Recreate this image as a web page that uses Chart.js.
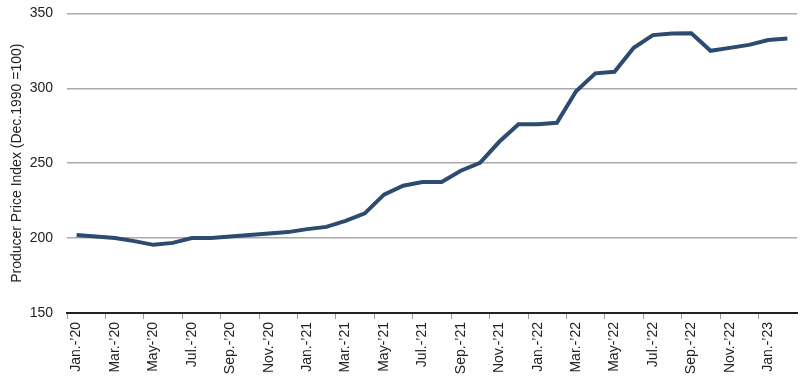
<!DOCTYPE html>
<html>
<head>
<meta charset="utf-8">
<script src="https://cdn.jsdelivr.net/npm/chart.js@4"></script>
<style>
  html, body { margin: 0; padding: 0; background: #fff; }
  #wrap { width: 800px; height: 382px; position: relative; }
</style>
</head>
<body>
<div id="wrap"><canvas id="c" width="800" height="382"></canvas></div>
<script>
const categories = [
  "Jan.-’20","Feb.-’20","Mar.-’20","Apr.-’20","May-’20","Jun.-’20","Jul.-’20","Aug.-’20","Sep.-’20","Oct.-’20","Nov.-’20","Dec.-’20",
  "Jan.-’21","Feb.-’21","Mar.-’21","Apr.-’21","May-’21","Jun.-’21","Jul.-’21","Aug.-’21","Sep.-’21","Oct.-’21","Nov.-’21","Dec.-’21",
  "Jan.-’22","Feb.-’22","Mar.-’22","Apr.-’22","May-’22","Jun.-’22","Jul.-’22","Aug.-’22","Sep.-’22","Oct.-’22","Nov.-’22","Dec.-’22",
  "Jan.-’23","Feb.-’23"
];
const ppiValues = [
  202, 201, 200, 198, 195.5, 196.8, 200, 200, 201, 202, 203, 204,
  206, 207.5, 211.5, 216.5, 229, 235, 237.5, 237.5, 245, 250.3, 264.3, 276,
  276, 277, 298, 310, 311, 327, 335.5, 336.6, 336.7, 325, 327, 329,
  332.2, 333.2
];
const yTicks = [150, 200, 250, 300, 350];

new Chart(document.getElementById('c'), {
  type: 'line',
  data: {
    labels: categories,
    datasets: [{
      data: ppiValues,
      borderColor: '#2c4b6e',
      borderWidth: 4,
      pointRadius: 0,
      tension: 0,
      fill: false
    }]
  },
  options: {
    responsive: false,
    animation: false,
    layout: { padding: { top: 0, right: 3, left: 0, bottom: 0 } },
    plugins: { legend: { display: false }, tooltip: { enabled: false } },
    scales: {
      x: {
        offset: true,
        grid: {
          offset: true,
          drawOnChartArea: false,
          drawTicks: true,
          tickLength: 6,
          lineWidth: 1,
          color: ctx => (ctx.index % 2 === 0 ? '#999999' : 'rgba(0,0,0,0)')
        },
        border: { display: true, color: '#222222', width: 2 },
        ticks: {
          autoSkip: false,
          maxRotation: 90,
          minRotation: 90,
          padding: 3,
          color: '#222222',
          font: { family: "'Liberation Sans', Arial, sans-serif", size: 14 },
          callback: function(v, i) { return i % 2 === 0 ? categories[i] : ''; }
        },
        afterFit: s => { s.height = 69; s.paddingRight = 0; }
      },
      y: {
        min: yTicks[0],
        max: yTicks[yTicks.length - 1],
        afterBuildTicks: s => { s.ticks = yTicks.map(v => ({ value: v })); },
        grid: { color: '#aaaaaa', lineWidth: 1.5, drawTicks: true, tickLength: 9, tickColor: 'rgba(0,0,0,0)' },
        border: { display: false },
        ticks: {
          padding: 5,
          color: '#222222',
          font: { family: "'Liberation Sans', Arial, sans-serif", size: 14 }
        },
        title: {
          display: true,
          text: 'Producer Price Index (Dec.1990 =100)',
          color: '#222222',
          font: { family: "'Liberation Sans', Arial, sans-serif", size: 14 },
          padding: { top: 9, bottom: 4 }
        },
        afterFit: s => { s.width = 67; }
      }
    }
  }
});
</script>
</body>
</html>
